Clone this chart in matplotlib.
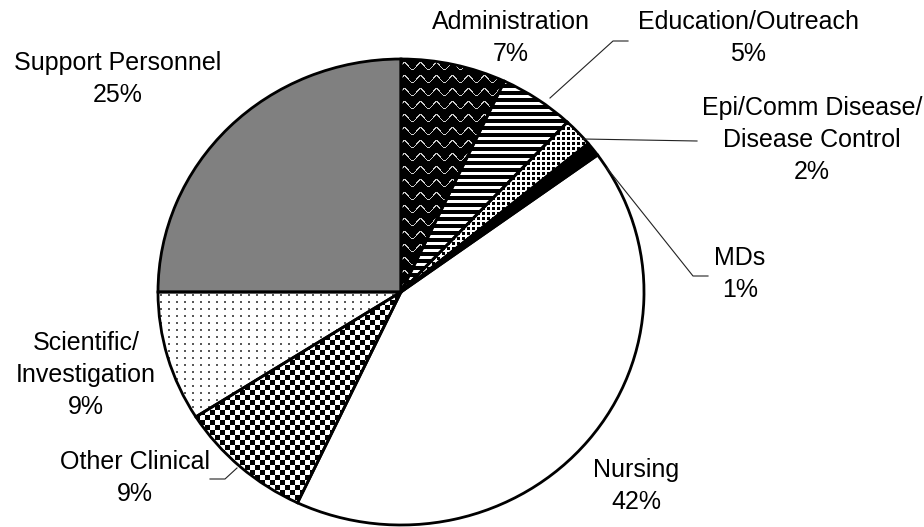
import numpy as np
import matplotlib
matplotlib.use('Agg')
import matplotlib.pyplot as plt

# ---- data ----
categories = ['Administration', 'Education/Outreach', 'Epi/Comm Disease/\nDisease Control',
              'MDs', 'Nursing', 'Other Clinical', 'Scientific/\nInvestigation', 'Support Personnel']
shares = [7, 5, 2, 1, 42, 9, 9, 25]
fills = ['black', 'white', 'white', 'black', 'white', 'white', 'white', '#808080']
textures = ['admin', 'stripes', 'grid', None, None, 'checker', 'dots', None]

# ---- layout (pixels) ----
W, H = 924, 527
cx, cy = 401, 292          # pie centre (from top-left)
rx, ry = 243, 233          # horizontal / vertical radius

label_pos = [(511, 38), (748, 38), (812, 140), (740, 274), (636, 486),
             (135, 478), (86, 375), (118, 79)]
leaders = {
    1: [(550, 98), (613, 41), (628, 41)],
    2: [(583, 139), (697, 141)],
    3: [(607, 168), (693, 276), (708, 276)],
    5: [(237, 468), (225, 479), (210, 479)],
}

plt.rcParams['font.family'] = ['Liberation Sans', 'DejaVu Sans']

fig = plt.figure(figsize=(W / 100, H / 100), dpi=100)
ax = fig.add_axes([0, 0, 1, 1])

x0, x1 = -cx / rx, (W - cx) / rx
y0, y1 = (cy - H) / ry, cy / ry


def d(px, py):
    return (px - cx) / rx, (cy - py) / ry


wedges, _ = ax.pie(shares, startangle=90, counterclock=False, radius=1, center=(0, 0),
                   colors=fills, wedgeprops=dict(linewidth=0, edgecolor='none'))
for w in wedges:
    w.set_zorder(1)

# textures in pixel space
yy, xx = np.mgrid[0:H, 0:W]
tex = {}
t = np.zeros((H, W))
t[np.abs(((yy + 3.5 * np.sin(2 * np.pi * xx / 16)) % 13) - 0.6) < 0.9] = 0.8
tex['admin'] = t
tex['stripes'] = np.where(yy % 7 < 4, 0.0, 1.0)
tex['grid'] = np.where((xx % 5 < 2) | (yy % 5 < 2), 1.0, 0.0)
tex['checker'] = ((xx // 5 + yy // 5) % 2).astype(float)
t = np.ones((H, W))
t[(xx % 8 < 2) & (yy % 7 < 2)] = 0.35
tex['dots'] = t

for w, name in zip(wedges, textures):
    if name is None:
        continue
    im = ax.imshow(tex[name], cmap='gray', vmin=0, vmax=1, origin='upper',
                   extent=(x0, x1, y0, y1), interpolation='nearest', zorder=2)
    im.set_clip_path(w)

# outlines
ax.pie(shares, startangle=90, counterclock=False, radius=1, center=(0, 0),
       wedgeprops=dict(facecolor='none', edgecolor='black', linewidth=2, zorder=5))

ax.set_aspect('auto')
ax.set_xlim(x0, x1)
ax.set_ylim(y0, y1)
ax.axis('off')

for i, pts in leaders.items():
    xs, ys = zip(*[d(*p) for p in pts])
    ax.plot(xs, ys, color='#222222', linewidth=0.8, zorder=6)

for cat, v, (px, py) in zip(categories, shares, label_pos):
    fig.text(px / W, 1 - py / H, f'{cat}\n{v}%', ha='center', va='center',
             multialignment='center', fontsize=18, linespacing=1.42, color='black')

fig.savefig('out.png', dpi=100)
